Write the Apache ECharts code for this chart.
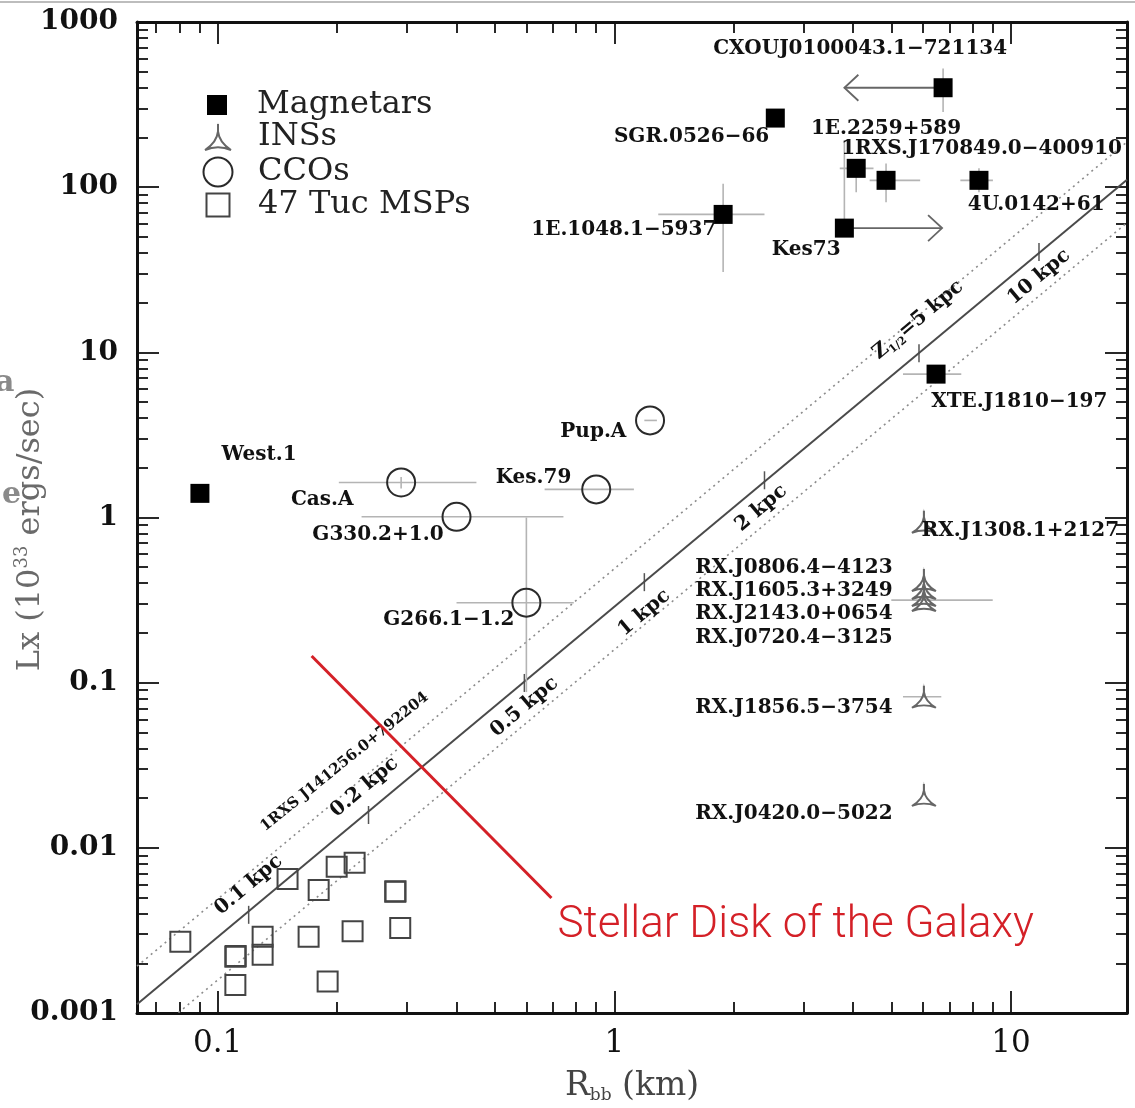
<!DOCTYPE html>
<html><head><meta charset="utf-8">
<script src="https://cdn.jsdelivr.net/npm/echarts@6/dist/echarts.min.js"></script>
<style>html,body{margin:0;padding:0;background:#fff}#c{width:1135px;height:1108px}</style>
</head><body><div id="c"></div>
<script>
// ---------- axes ----------
const xMin = 0.0626, xMax = 19.6;
const yMin = 0.001, yMax = 1000;
const xTickValues = [0.1, 1, 10];
const xTickLabels = ['0.1', '1', '10'];
const xMinorTicks = [0.07,0.08,0.09, 0.2,0.3,0.4,0.5,0.6,0.7,0.8,0.9, 2,3,4,5,6,7,8,9];
const yTickValues = [0.001, 0.01, 0.1, 1, 10, 100, 1000];
const yTickLabels = ['0.001', '0.01', '0.1', '1', '10', '100', '1000'];
const yMinorTicks = [0.002,0.003,0.004,0.005,0.006,0.007,0.008,0.009,
  0.02,0.03,0.04,0.05,0.06,0.07,0.08,0.09,
  0.2,0.3,0.4,0.5,0.6,0.7,0.8,0.9,
  2,3,4,5,6,7,8,9,
  20,30,40,50,60,70,80,90,
  200,300,400,500,600,700,800,900];

// ---------- Magnetars ----------
const magNames = ['West.1','1E.1048.1−5937','SGR.0526−66','CXOUJ0100043.1−721134','1E.2259+589','1RXS.J170849.0−400910','4U.0142+61','Kes73','XTE.J1810−197'];
const magR = [0.0902, 1.88, 2.545, 6.74, 4.07, 4.84, 8.30, 3.80, 6.47];
const magL = [1.40, 68.4, 262, 400, 130, 110, 110, 56.5, 7.38];
const magRErr = [null, [1.29, 2.39], null, null, [3.70, 4.50], [4.40, 5.90], [7.45, 9.0], null, [5.34, 7.49]];
const magLErr = [null, [30.6, 105], null, [285, 523], [93, 145], [81, 139], [93, 130], [56.5, 193], null];
const magArrowFrom = [6.74, 3.80];
const magArrowTo = [3.80, 6.70];
const magArrowL = [400, 56.5];

// ---------- INSs ----------
const insNames = ['RX.J1308.1+2127','RX.J0806.4−4123','RX.J1605.3+3249','RX.J2143.0+0654','RX.J0720.4−3125','RX.J1856.5−3754','RX.J0420.0−5022'];
const insR = [6.03, 6.03, 6.03, 6.03, 6.03, 6.03, 6.03];
const insL = [0.942, 0.418, 0.374, 0.339, 0.316, 0.0822, 0.0209];
const insRErr = [null, null, null, null, [4.99, 8.99], [5.34, 6.67], null];

// ---------- CCOs ----------
const ccoNames = ['Pup.A','Kes.79','Cas.A','G330.2+1.0','G266.1−1.2'];
const ccoR = [1.23, 0.90, 0.29, 0.40, 0.60];
const ccoL = [3.87, 1.48, 1.63, 1.01, 0.305];
const ccoRErr = [[1.19, 1.28], [0.667, 1.12], [0.202, 0.449], [0.2305, 0.744], [0.40, 0.79]];
const ccoLErr = [null, null, [1.50, 1.76], null, [0.0877, 1.0]];

// ---------- 47 Tuc MSPs ----------
const mspR = [0.0805, 0.1108, 0.1110, 0.1108, 0.1298, 0.1298, 0.150, 0.1695, 0.1797, 0.1995, 0.2214, 0.2188, 0.1893, 0.2803, 0.2806, 0.2885];
const mspL = [0.00270, 0.00219, 0.00221, 0.00148, 0.00290, 0.00225, 0.00648, 0.00290, 0.00555, 0.00769, 0.00813, 0.00313, 0.00155, 0.00542, 0.00545, 0.00327];

// ---------- 1RXS J141256.0+792204 lines ----------
const solidLineR = [0.0626, 19.6];
const solidLineL = [0.00113, 111];
const upperDotR = [0.0626, 19.6];
const upperDotL = [0.00192, 188];
const lowerDotR = [0.0626, 19.6];
const lowerDotL = [0.000621, 60.9];
const distLabels = ['0.1 kpc', '0.2 kpc', '0.5 kpc', '1 kpc', '2 kpc', 'Z1/2=5 kpc', '10 kpc'];
const distTickR = [0.1197, 0.240, 0.593, 1.19, 2.39, 5.86, 11.76];
const distTickL = [0.00393, 0.0158, 0.0996, 0.406, 1.68, 9.89, 40.5];
const distLabelR = [0.1197, 0.2345, 0.593, 1.19, 2.345, 5.83, 11.76];
const distLabelL = [0.00595, 0.0233, 0.0713, 0.2646, 1.14, 15.7, 28.6];
const srcLabel = '1RXS J141256.0+792204';
const srcLabelPos = [0.209, 0.0331];

// ---------- point label anchors ----------
const magLabelR = [0.1023, 1.807, 2.457, 4.165, 4.84, 3.73, 7.78, 3.045, 6.29];
const magLabelL = [2.39, 54.9, 201.6, 692, 226.6, 171.5, 78.6, 41.6, 5.05];
const magLabelAlign = ['left','right','right','center','center','left','left','center','left'];
const insLabelR = [5.95, 5.03, 5.03, 5.03, 5.03, 5.03, 5.03];
const insLabelL = [0.835, 0.494, 0.358, 0.260, 0.187, 0.0705, 0.0160];
const insLabelAlign = ['left','right','right','right','right','right','right'];
const ccoLabelR = [1.072, 0.779, 0.220, 0.371, 0.560];
const ccoLabelL = [3.30, 1.73, 1.28, 0.783, 0.240];
const ccoLabelAlign = ['right','right','right','right','right'];

// ---------- red annotation ----------
const redLineR = [0.1725, 0.694];
const redLineL = [0.1449, 0.00497];
const redText = 'Stellar Disk of the Galaxy';
const redTextPos = [0.7186, 0.00335];

const legendNames = ['Magnetars', 'INSs', 'CCOs', '47 Tuc MSPs'];

// =========================================================
const SERIF = 'DejaVu Serif';
const INS_PATH = 'path://M12 0 L12 8 M12 6 Q13 15 22.5 21 Q12 16.5 1.5 21 Q11 15 12 6 Z';
const SQ_PATH = 'path://M0 0 H10 V10 H0 Z';
const CIRC_PATH = 'path://M0 5 A5 5 0 1 1 10 5 A5 5 0 1 1 0 5 Z';

function fmt(values, labels) {
  return function (v) {
    for (let i = 0; i < values.length; i++) {
      if (Math.abs(Math.log10(values[i]) - Math.log10(v)) < 1e-6) return labels[i];
    }
    return '';
  };
}
function zip(a, b) { return a.map((v, i) => [v, b[i]]); }

const tickLine = { color: '#111', width: 1.8 };
function makeAxes(dim) {
  const isX = dim === 'x';
  const base = {
    type: 'log', logBase: 10, gridIndex: 0,
    min: isX ? xMin : yMin, max: isX ? xMax : yMax,
    splitLine: { show: false }, splitArea: { show: false },
    axisPointer: { show: false }, silent: true
  };
  const majors = isX ? xTickValues : yTickValues;
  const minors = isX ? xMinorTicks : yMinorTicks;
  const p1 = isX ? 'bottom' : 'left';
  const p2 = isX ? 'top' : 'right';
  const axLine = { show: true, onZero: false, lineStyle: { color: '#111', width: 3 } };
  const first = Object.assign({}, base, {
    position: p1,
    axisLine: axLine,
    axisTick: { show: true, inside: true, length: 22, customValues: majors, lineStyle: tickLine },
    axisLabel: {
      show: true, customValues: majors, showMinLabel: true, showMaxLabel: true,
      formatter: isX ? fmt(xTickValues, xTickLabels) : fmt(yTickValues, yTickLabels),
      margin: isX ? 15 : 19, fontFamily: SERIF, fontSize: isX ? 31 : 28,
      fontWeight: isX ? 'normal' : 'bold', color: '#111'
    },
    nameLocation: 'middle', nameMoveOverlap: false
  });
  if (isX) {
    first.name = '{r|R}{s|bb}{r| (km)}';
    first.nameGap = 55;
    first.nameTextStyle = {
      rich: {
        r: { fontFamily: SERIF, fontSize: 33, color: '#444', lineHeight: 36 },
        s: { fontFamily: SERIF, fontSize: 17, color: '#444', lineHeight: 15, verticalAlign: 'bottom' }
      }
    };
  } else {
    first.name = '{r|Lx (10}{p|33}{r| ergs/sec)}';
    first.nameGap = 88;
    first.nameRotate = 90;
    first.nameTextStyle = {
      padding: [0, 24, 0, 0],
      rich: {
        r: { fontFamily: SERIF, fontSize: 32, color: '#6a6a6a', lineHeight: 36 },
        p: { fontFamily: SERIF, fontSize: 18, color: '#6a6a6a', lineHeight: 18, verticalAlign: 'top' }
      }
    };
  }
  const minor1 = Object.assign({}, base, {
    position: p1, axisLine: { show: false },
    axisTick: { show: true, inside: true, length: 11, customValues: minors, lineStyle: tickLine },
    axisLabel: { show: false }
  });
  const second = Object.assign({}, base, {
    position: p2, axisLine: axLine,
    axisTick: { show: true, inside: true, length: 22, customValues: majors, lineStyle: tickLine },
    axisLabel: { show: false }
  });
  const minor2 = Object.assign({}, base, {
    position: p2, axisLine: { show: false },
    axisTick: { show: true, inside: true, length: 11, customValues: minors, lineStyle: tickLine },
    axisLabel: { show: false }
  });
  return [first, minor1, second, minor2];
}

// error bar segments [x1, x2, y1, y2]
const errSegs = [];
function addErr(Rs, Ls, rErr, lErr) {
  Rs.forEach((r, i) => {
    if (rErr && rErr[i]) errSegs.push([rErr[i][0], rErr[i][1], Ls[i], Ls[i]]);
    if (lErr && lErr[i]) errSegs.push([r, r, lErr[i][0], lErr[i][1]]);
  });
}
addErr(magR, magL, magRErr, magLErr);
addErr(insR, insL, insRErr, null);
addErr(ccoR, ccoL, ccoRErr, ccoLErr);

const labelFont = { fontFamily: SERIF, fontSize: 20, fontWeight: 'bold', color: '#111' };
function labelData(names, Rs, Ls, aligns) {
  return names.map((n, i) => ({ name: n, value: [Rs[i], Ls[i]], label: { align: aligns[i] } }));
}
const pointLabels = [].concat(
  labelData(magNames, magLabelR, magLabelL, magLabelAlign),
  labelData(insNames, insLabelR, insLabelL, insLabelAlign),
  labelData(ccoNames, ccoLabelR, ccoLabelL, ccoLabelAlign)
);

const distLabelData = distLabels.map((t, i) => {
  let txt = t;
  if (t.indexOf('Z1/2') === 0) txt = '{z|Z}{s|1/2}{z|' + t.slice(4) + '}';
  return { name: txt, value: [distLabelR[i], distLabelL[i]] };
});

const hiddenItem = { color: 'rgba(0,0,0,0)', opacity: 1 };
const legendSizes = [20, 26, 29, 23];
const legendRowY = [105, 137, 172, 205];

const chart = echarts.init(document.getElementById('c'), null, { renderer: 'canvas' });
const option = {
  animation: false,
  backgroundColor: '#fff',
  grid: { left: 137, right: 8, top: 22, bottom: 95, containLabel: false, outerBoundsMode: 'none' },
  xAxis: makeAxes('x'),
  yAxis: makeAxes('y'),
  legend: legendNames.map((nm, i) => {
    const h = legendSizes[i];
    return {
      data: [{ name: nm, icon: [SQ_PATH, INS_PATH, CIRC_PATH, SQ_PATH][i] }],
      orient: 'vertical', left: 217 - h / 2, top: legendRowY[i] - 18,
      itemWidth: h, itemHeight: h, padding: 0,
      selectedMode: false,
      textStyle: { fontFamily: SERIF, fontSize: 32, color: '#222', lineHeight: 36, padding: [0, 0, 0, 35 - h / 2] }
    };
  }),
  graphic: [
    { type: 'line', shape: { x1: 0, y1: 2, x2: 1135, y2: 2 }, style: { stroke: '#bdbdbd', lineWidth: 2 }, silent: true },
    { type: 'text', left: -5, top: 368, style: { text: 'a', font: 'bold 30px "DejaVu Serif"', fill: '#8a8a8a' }, silent: true },
    { type: 'text', left: 2, top: 480, style: { text: 'e', font: 'bold 30px "DejaVu Serif"', fill: '#8a8a8a' }, silent: true }
  ],
  series: [
    { type: 'line', name: 'upperDot', data: zip(upperDotR, upperDotL), symbol: 'none', silent: true, z: 1,
      lineStyle: { color: '#8c8c8c', width: 1.6, type: [2, 4] } },
    { type: 'line', name: 'lowerDot', data: zip(lowerDotR, lowerDotL), symbol: 'none', silent: true, z: 1,
      lineStyle: { color: '#8c8c8c', width: 1.6, type: [2, 4] } },
    { type: 'line', name: 'solid', data: zip(solidLineR, solidLineL), symbol: 'none', silent: true, z: 1,
      lineStyle: { color: '#4a4a4a', width: 2 } },
    { type: 'custom', name: 'distTicks', data: zip(distTickR, distTickL), silent: true, z: 1,
      renderItem: (p, api) => {
        const c = api.coord([api.value(0), api.value(1)]);
        return { type: 'line', shape: { x1: c[0], y1: c[1] - 9, x2: c[0], y2: c[1] + 9 }, style: { stroke: '#555', lineWidth: 1.5 } };
      } },
    { type: 'custom', name: 'errors', data: errSegs, silent: true, z: 2, encode: { x: [0, 1], y: [2, 3] },
      renderItem: (p, api) => {
        const a = api.coord([api.value(0), api.value(2)]);
        const b = api.coord([api.value(1), api.value(3)]);
        return { type: 'line', shape: { x1: a[0], y1: a[1], x2: b[0], y2: b[1] }, style: { stroke: '#b4b4b4', lineWidth: 1.6 } };
      } },
    { type: 'custom', name: 'arrows', silent: true, z: 2,
      data: magArrowFrom.map((r, i) => [r, magArrowTo[i], magArrowL[i]]),
      encode: { x: [0, 1], y: 2 },
      renderItem: (p, api) => {
        const a = api.coord([api.value(0), api.value(2)]);
        const b = api.coord([api.value(1), api.value(2)]);
        const d = Math.sign(b[0] - a[0]);
        return { type: 'group', children: [
          { type: 'line', shape: { x1: a[0], y1: a[1], x2: b[0], y2: b[1] }, style: { stroke: '#666', lineWidth: 1.8 } },
          { type: 'polyline', shape: { points: [[b[0] - d * 14, b[1] - 13], [b[0], b[1]], [b[0] - d * 14, b[1] + 13]] },
            style: { stroke: '#666', lineWidth: 1.8, fill: null } }
        ] };
      } },
    { type: 'scatter', name: 'Magnetars', data: zip(magR, magL), symbol: 'rect', symbolSize: 19, z: 5,
      itemStyle: { color: '#000', borderColor: '#000', borderWidth: 0, opacity: 1 } },
    { type: 'scatter', name: 'INSs', data: zip(insR, insL), symbol: INS_PATH, symbolSize: [24, 22], z: 5,
      itemStyle: { color: 'rgba(0,0,0,0)', borderColor: '#666', borderWidth: 2, opacity: 1 } },
    { type: 'scatter', name: 'CCOs', data: zip(ccoR, ccoL), symbol: 'circle', symbolSize: 28, z: 5,
      itemStyle: { color: 'rgba(0,0,0,0)', borderColor: '#2a2a2a', borderWidth: 2, opacity: 1 } },
    { type: 'scatter', name: '47 Tuc MSPs', data: zip(mspR, mspL), symbol: 'rect', symbolSize: 20, z: 5,
      itemStyle: { color: 'rgba(0,0,0,0)', borderColor: '#444', borderWidth: 2, opacity: 1 } },
    { type: 'scatter', name: 'pointLabels', data: pointLabels, symbolSize: 1, silent: true, z: 6,
      itemStyle: hiddenItem,
      label: Object.assign({ show: true, position: 'inside', formatter: '{b}', verticalAlign: 'middle' }, labelFont) },
    { type: 'scatter', name: 'distLabels', data: distLabelData, symbolSize: 1, silent: true, z: 6,
      itemStyle: hiddenItem,
      label: { show: true, position: 'inside', formatter: '{b}', rotate: 40, align: 'center', verticalAlign: 'middle',
        fontFamily: SERIF, fontSize: 20, fontWeight: 'bold', color: '#111',
        rich: { z: { fontFamily: SERIF, fontSize: 20, fontWeight: 'bold', color: '#111', lineHeight: 24 },
                s: { fontFamily: SERIF, fontSize: 11, fontWeight: 'bold', color: '#111', lineHeight: 12, verticalAlign: 'bottom' } } } },
    { type: 'scatter', name: 'srcLabel', data: [{ name: srcLabel, value: srcLabelPos }], symbolSize: 1, silent: true, z: 6,
      itemStyle: hiddenItem,
      label: { show: true, position: 'inside', formatter: '{b}', rotate: 39, align: 'center', verticalAlign: 'middle',
        fontFamily: SERIF, fontSize: 15, fontWeight: 'bold', color: '#111' } },
    { type: 'line', name: 'redLine', data: zip(redLineR, redLineL), symbol: 'none', silent: true, z: 8,
      lineStyle: { color: '#d42027', width: 3 } },
    { type: 'scatter', name: 'redText', data: [{ name: redText, value: redTextPos }], symbolSize: 1, silent: true, z: 8,
      itemStyle: hiddenItem,
      label: { show: true, position: 'inside', formatter: '{b}', align: 'left', verticalAlign: 'middle',
        fontFamily: 'Roboto', fontWeight: 300, fontSize: 44, color: '#d42027' } }
  ]
};
chart.setOption(option);
</script>
</body></html>
